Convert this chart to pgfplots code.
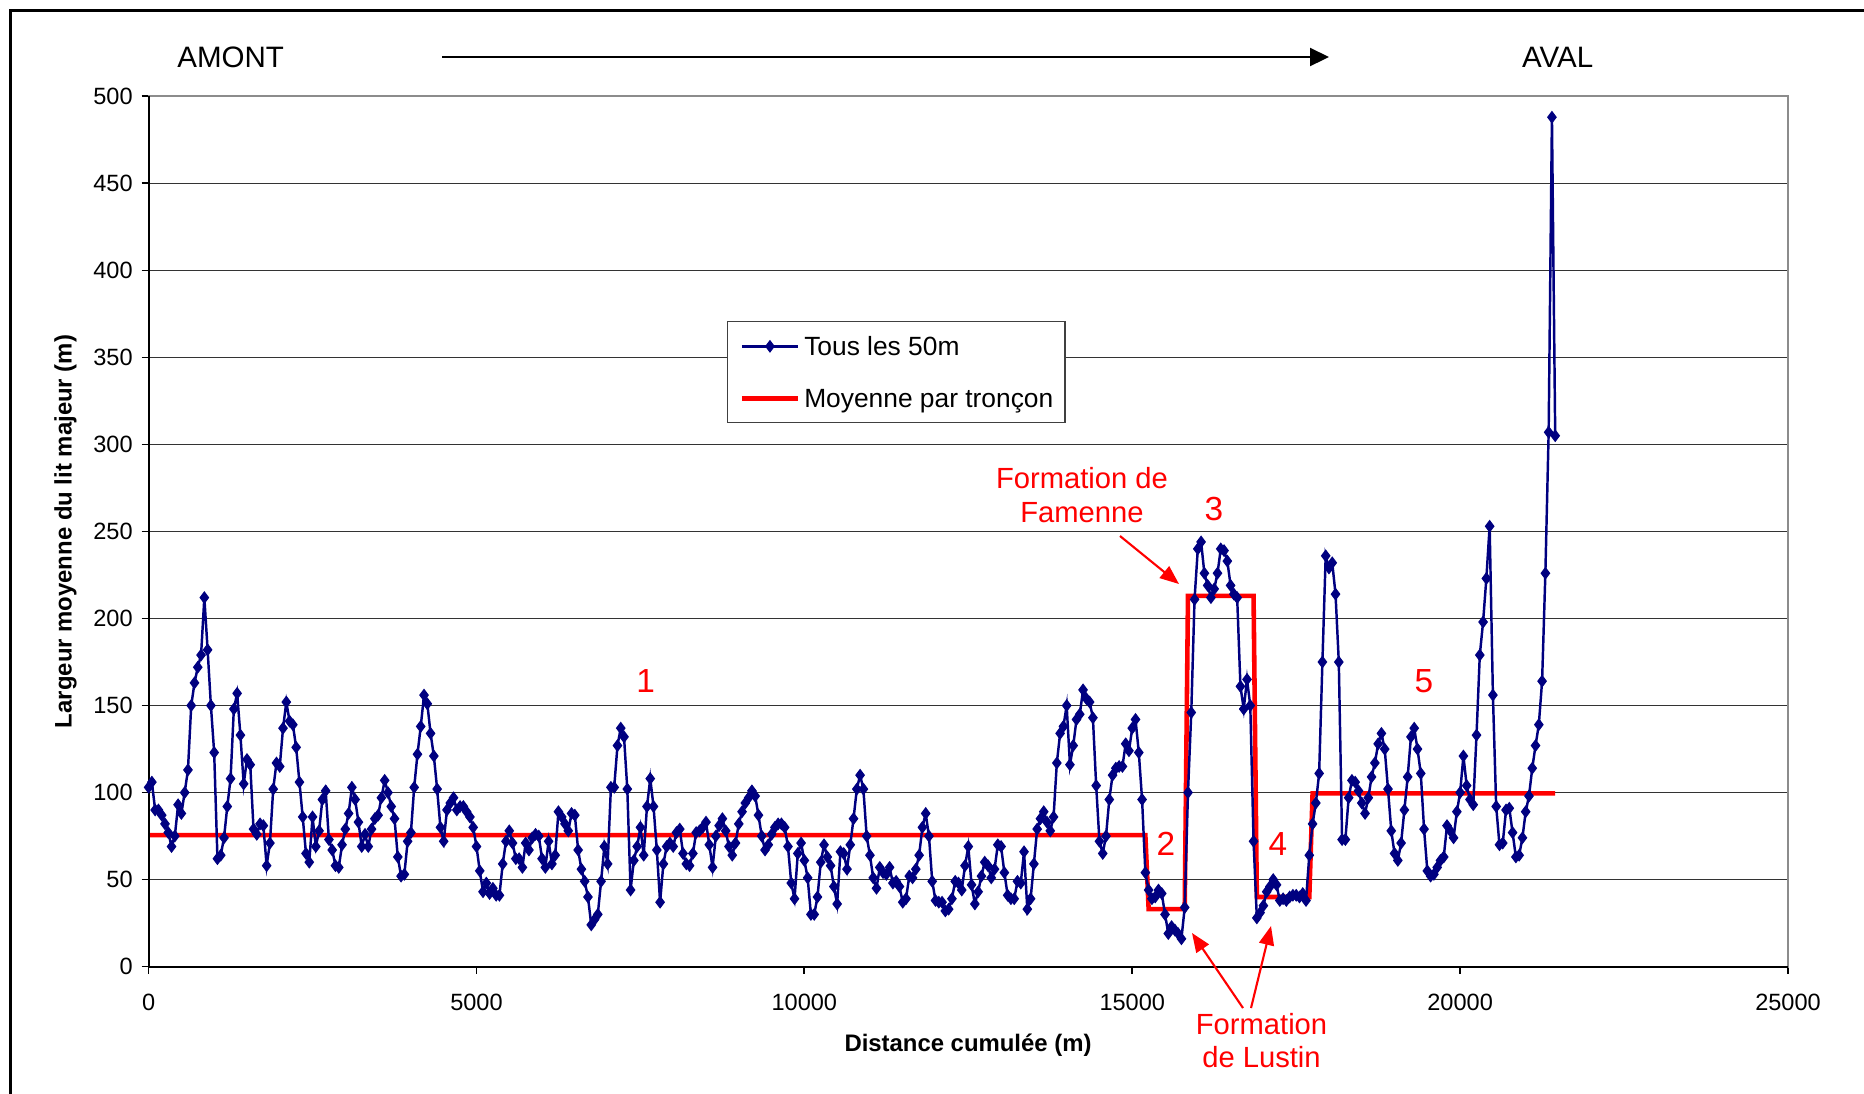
\documentclass[border=0pt]{standalone}
\usepackage{fontspec}
\setmainfont{Liberation Sans}
\usepackage{pgfplots}
\pgfplotsset{compat=1.18}
\usetikzlibrary{arrows.meta}

\definecolor{navyline}{RGB}{0,0,128}
\definecolor{avgred}{RGB}{255,0,0}

\pgfplotsset{
  profile legend/.style={legend image code/.code={%
    \path (0mm,0mm);
    \draw[##1, mark repeat=2, mark phase=2]
      plot coordinates {(0.45mm,0mm) (3.25mm,0mm) (6.05mm,0mm)};}},
  mean legend/.style={legend image code/.code={%
    \path (0mm,0mm);
    \draw[##1] (0.45mm,0mm) -- (6.05mm,0mm);}},
}

\begin{document}
\begin{tikzpicture}
% page size: 186.4 mm x 109.3 mm, origin at the top-left corner
\useasboundingbox (0,0) rectangle (186.4mm,-109.3mm);

\begin{axis}[
  at={(14.86mm,-96.66mm)}, anchor=south west,
  scale only axis, width=163.94mm, height=87.03mm,
  xmin=0, xmax=25000, ymin=0, ymax=500,
  xtick={0,5000,...,25000}, ytick={0,50,...,500},
  scaled x ticks=false,
  /pgf/number format/1000 sep={},
  /pgf/number format/assume math mode=true,
  ticklabel style={font=\fontsize{6.7}{8}\selectfont},
  xticklabel style={yshift=-0.85mm},
  yticklabel style={xshift=0.35mm},
  xtick pos=left, ytick pos=left,
  tick align=outside,
  major tick length=0.7mm,
  major tick style={black, line width=0.5pt},
  ymajorgrids,
  grid style={black!80, line width=0.3pt},
  axis line style={draw=black!45, line width=0.6pt},
  clip=false,
  legend style={at={(0.3528,0.7418)}, anchor=north west,
    draw=black!75, line width=0.4pt, fill=white,
    font=\fontsize{7.5}{9}\selectfont,
    inner xsep=0.75mm, inner ysep=0.8mm, row sep=1.95mm,
    nodes={text depth=0pt, inner xsep=0.4mm},
    /tikz/every even column/.append style={column sep=0mm}},
  legend cell align=left,
]
% section means (drawn first so that the 50 m profile sits on top)
\addplot[color=avgred, line width=1.3pt, no markers, forget plot] coordinates {
 (0,75.5) (15200,75.5) (15250,33) (15800,33) (15850,213) (16850,213)
 (16900,40) (17700,40) (17750,99.5) (21450,99.5)};

% width of the major bed every 50 m
\addplot[color=navyline, line width=0.7pt, mark=diamond*, mark size=1.6pt,
  mark options={solid, fill=navyline, line width=0.3pt}, profile legend]
coordinates {
(0,103) (50,106) (100,90) (150,90) (200,87) (250,82) (300,77) (350,69) (400,75) (450,93)
(500,88) (550,100) (600,113) (650,150) (700,163) (750,172) (800,179) (850,212) (900,182) (950,150)
(1000,123) (1050,62) (1100,64) (1150,74) (1200,92) (1250,108) (1300,148) (1350,157) (1400,133) (1450,105)
(1500,119) (1550,116) (1600,79) (1650,76) (1700,82) (1750,81) (1800,58) (1850,71) (1900,102) (1950,117)
(2000,115) (2050,137) (2100,152) (2150,141) (2200,139) (2250,126) (2300,106) (2350,86) (2400,65) (2450,60)
(2500,86) (2550,69) (2600,78) (2650,96) (2700,101) (2750,73) (2800,67) (2850,58) (2900,57) (2950,70)
(3000,79) (3050,88) (3100,103) (3150,96) (3200,83) (3250,69) (3300,76) (3350,69) (3400,79) (3450,85)
(3500,87) (3550,97) (3600,107) (3650,100) (3700,92) (3750,85) (3800,63) (3850,52) (3900,53) (3950,72)
(4000,77) (4050,103) (4100,122) (4150,138) (4200,156) (4250,151) (4300,134) (4350,121) (4400,102) (4450,80)
(4500,72) (4550,90) (4600,94) (4650,97) (4700,90) (4750,92) (4800,92) (4850,89) (4900,86) (4950,80)
(5000,69) (5050,55) (5100,43) (5150,48) (5200,42) (5250,45) (5300,41) (5350,41) (5400,59) (5450,72)
(5500,78) (5550,71) (5600,62) (5650,62) (5700,57) (5750,71) (5800,67) (5850,74) (5900,76) (5950,75)
(6000,62) (6050,57) (6100,72) (6150,59) (6200,64) (6250,89) (6300,86) (6350,82) (6400,78) (6450,88)
(6500,87) (6550,67) (6600,56) (6650,49) (6700,40) (6750,24) (6800,27) (6850,30) (6900,49) (6950,69)
(7000,59) (7050,103) (7100,103) (7150,127) (7200,137) (7250,132) (7300,102) (7350,44) (7400,61) (7450,69)
(7500,80) (7550,64) (7600,92) (7650,108) (7700,92) (7750,67) (7800,37) (7850,59) (7900,69) (7950,71)
(8000,69) (8050,77) (8100,79) (8150,65) (8200,59) (8250,58) (8300,65) (8350,77) (8400,78) (8450,80)
(8500,83) (8550,70) (8600,57) (8650,75) (8700,81) (8750,85) (8800,78) (8850,69) (8900,64) (8950,71)
(9000,82) (9050,89) (9100,94) (9150,97) (9200,101) (9250,98) (9300,87) (9350,75) (9400,67) (9450,70)
(9500,76) (9550,80) (9600,82) (9650,82) (9700,80) (9750,69) (9800,48) (9850,39) (9900,65) (9950,71)
(10000,61) (10050,51) (10100,30) (10150,30) (10200,40) (10250,60) (10300,70) (10350,63) (10400,58) (10450,46)
(10500,36) (10550,66) (10600,65) (10650,56) (10700,70) (10750,85) (10800,102) (10850,110) (10900,102) (10950,75)
(11000,64) (11050,51) (11100,45) (11150,57) (11200,54) (11250,53) (11300,57) (11350,48) (11400,49) (11450,46)
(11500,37) (11550,39) (11600,52) (11650,51) (11700,56) (11750,64) (11800,80) (11850,88) (11900,75) (11950,49)
(12000,38) (12050,37) (12100,37) (12150,32) (12200,33) (12250,39) (12300,49) (12350,48) (12400,44) (12450,58)
(12500,69) (12550,47) (12600,36) (12650,43) (12700,52) (12750,60) (12800,58) (12850,51) (12900,56) (12950,70)
(13000,69) (13050,54) (13100,41) (13150,39) (13200,39) (13250,49) (13300,48) (13350,66) (13400,33) (13450,39)
(13500,59) (13550,79) (13600,85) (13650,89) (13700,83) (13750,78) (13800,86) (13850,117) (13900,134) (13950,138)
(14000,150) (14050,116) (14100,127) (14150,142) (14200,145) (14250,159) (14300,154) (14350,152) (14400,143) (14450,104)
(14500,72) (14550,65) (14600,75) (14650,96) (14700,110) (14750,114) (14800,115) (14850,115) (14900,128) (14950,124)
(15000,137) (15050,142) (15100,123) (15150,96) (15200,54) (15250,44) (15300,39) (15350,40) (15400,44) (15450,42)
(15500,30) (15550,19) (15600,23) (15650,21) (15700,19) (15750,16) (15800,34) (15850,100) (15900,146) (15950,211)
(16000,240) (16050,244) (16100,226) (16150,219) (16200,212) (16250,217) (16300,226) (16350,240) (16400,239) (16450,233)
(16500,219) (16550,214) (16600,212) (16650,161) (16700,148) (16750,165) (16800,150) (16850,72) (16900,28) (16950,31)
(17000,35) (17050,43) (17100,46) (17150,50) (17200,47) (17250,38) (17300,39) (17350,38) (17400,40) (17450,41)
(17500,41) (17550,40) (17600,42) (17650,38) (17700,64) (17750,82) (17800,94) (17850,111) (17900,175) (17950,236)
(18000,229) (18050,232) (18100,214) (18150,175) (18200,73) (18250,73) (18300,97) (18350,107) (18400,106) (18450,101)
(18500,94) (18550,88) (18600,97) (18650,109) (18700,117) (18750,128) (18800,134) (18850,125) (18900,102) (18950,78)
(19000,65) (19050,61) (19100,71) (19150,90) (19200,109) (19250,132) (19300,137) (19350,125) (19400,111) (19450,79)
(19500,55) (19550,52) (19600,53) (19650,57) (19700,61) (19750,63) (19800,81) (19850,78) (19900,74) (19950,89)
(20000,100) (20050,121) (20100,104) (20150,96) (20200,93) (20250,133) (20300,179) (20350,198) (20400,223) (20450,253)
(20500,156) (20550,92) (20600,70) (20650,71) (20700,90) (20750,91) (20800,77) (20850,63) (20900,64) (20950,74)
(21000,89) (21050,98) (21100,114) (21150,127) (21200,139) (21250,164) (21300,226) (21350,307) (21400,488) (21450,305)
};
\addlegendentry{Tous les 50m}
\addlegendimage{color=avgred, line width=1.3pt, mean legend}
\addlegendentry{Moyenne par tronçon}

% darker left and bottom axis lines
\draw[black, line width=0.6pt] (rel axis cs:0,1) -- (rel axis cs:0,0) -- (rel axis cs:1,0);
\end{axis}

\begin{scope}[x=0.1mm,y=-0.1mm]
  % outer frame
  \draw[black, line width=0.7pt] (10.5,1100) -- (10.5,10.5) -- (1870,10.5);

  % upstream / downstream header
  \node[font=\fontsize{8.4}{10}\selectfont] at (230.7,57) {AMONT};
  \node[font=\fontsize{8.4}{10}\selectfont] at (1557.6,57) {AVAL};
  \draw[black, line width=0.6pt, -{Triangle[length=1.9mm,width=1.8mm]}] (442,57) -- (1329,57);

  % axis titles
  \node[rotate=90, font=\bfseries\fontsize{6.8}{8}\selectfont] at (65.4,531.5)
    {Largeur moyenne du lit majeur (m)};
  \node[font=\bfseries\fontsize{6.8}{8}\selectfont] at (968,1045)
    {Distance cumulée (m)};

  % section numbers
  \begin{scope}[every node/.style={text=avgred, font=\fontsize{9.5}{11}\selectfont}]
    \node at (645.6,681) {1};
    \node at (1166,844) {2};
    \node at (1214,509) {3};
    \node at (1278,844) {4};
    \node at (1424,681) {5};
  \end{scope}

  % geological formations
  \node[text=avgred, align=center, font=\fontsize{8.3}{9.8}\selectfont] at (1082,495)
    {Formation de\\Famenne};
  \node[text=avgred, align=center, font=\fontsize{8.3}{9.4}\selectfont] at (1261.5,1040.5)
    {Formation\\de Lustin};
  \begin{scope}[avgred, line width=0.6pt, -{Triangle[length=1.9mm,width=1.5mm]}]
    \draw (1120,536) -- (1179,584);
    \draw (1243,1008) -- (1192,933);
    \draw (1251,1008) -- (1271,926);
  \end{scope}
\end{scope}
\end{tikzpicture}
\end{document}
